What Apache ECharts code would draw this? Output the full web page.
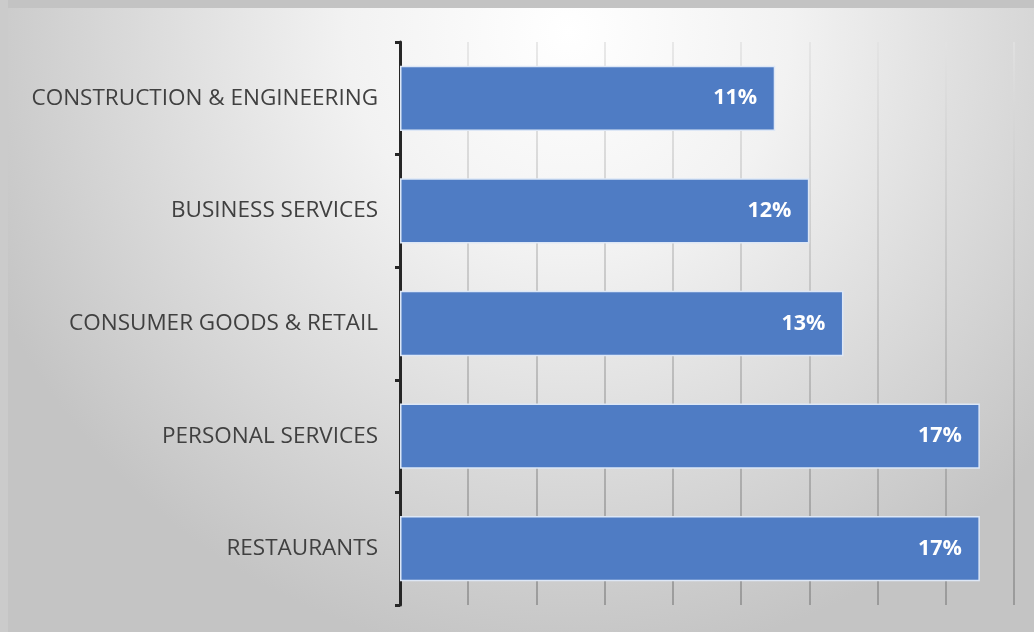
<!DOCTYPE html>
<html>
<head>
<meta charset="utf-8">
<script src="https://cdn.jsdelivr.net/npm/echarts@6/dist/echarts.min.js"></script>
<style>html,body{margin:0;padding:0;}#c{width:1034px;height:632px;}</style>
</head>
<body>
<div id="c"></div>
<script>
const categories = ["CONSTRUCTION & ENGINEERING", "BUSINESS SERVICES", "CONSUMER GOODS & RETAIL", "PERSONAL SERVICES", "RESTAURANTS"];
const shares = [11, 12, 13, 17, 17];
const axisMax = 18;
const axisStep = 2;

const chart = echarts.init(document.getElementById('c'));
chart.setOption({
  backgroundColor: {
    type: 'radial', x: 0.55, y: 0.05, r: 1.0,
    colorStops: [
      {offset: 0, color: '#ffffff'},
      {offset: 0.35, color: '#f2f2f2'},
      {offset: 1, color: '#c4c4c4'}
    ]
  },
  animation: false,
  graphic: [
    {type: 'rect', left: 0, top: 0, shape: {width: 1034, height: 8}, style: {fill: '#c3c3c3'}, z: 10},
    {type: 'rect', left: 0, top: 0, shape: {width: 8, height: 632}, style: {fill: '#cbcbcb'}, z: 10}
  ],
  grid: {left: 400, right: 20, top: 42, bottom: 27, containLabel: false},
  xAxis: {
    type: 'value', min: 0, max: axisMax, interval: axisStep,
    axisLabel: {show: false}, axisLine: {show: false}, axisTick: {show: false},
    splitLine: {show: true, lineStyle: {width: 1.5, color: {
      type: 'linear', global: true, x: 0, y: 42, x2: 0, y2: 605,
      colorStops: [{offset: 0, color: '#e2e2e2'}, {offset: 1, color: '#8c8c8c'}]
    }}}
  },
  yAxis: {
    type: 'category', data: categories, inverse: true,
    axisLine: {show: true, lineStyle: {color: '#262626', width: 3}},
    axisTick: {show: true, length: 5, lineStyle: {color: '#262626', width: 3}},
    axisLabel: {color: '#404040', fontFamily: 'Open Sans', fontSize: 22.5, margin: 22}
  },
  series: [{
    type: 'bar', data: shares, barCategoryGap: '42%',
    itemStyle: {color: '#4f7cc4', borderColor: '#dde7f6', borderWidth: 1.5},
    label: {show: true, position: 'insideRight', distance: 18, formatter: '{c}%',
      color: '#ffffff', fontWeight: 'bold', fontFamily: 'Open Sans', fontSize: 21.5}
  }]
});
</script>
</body>
</html>
